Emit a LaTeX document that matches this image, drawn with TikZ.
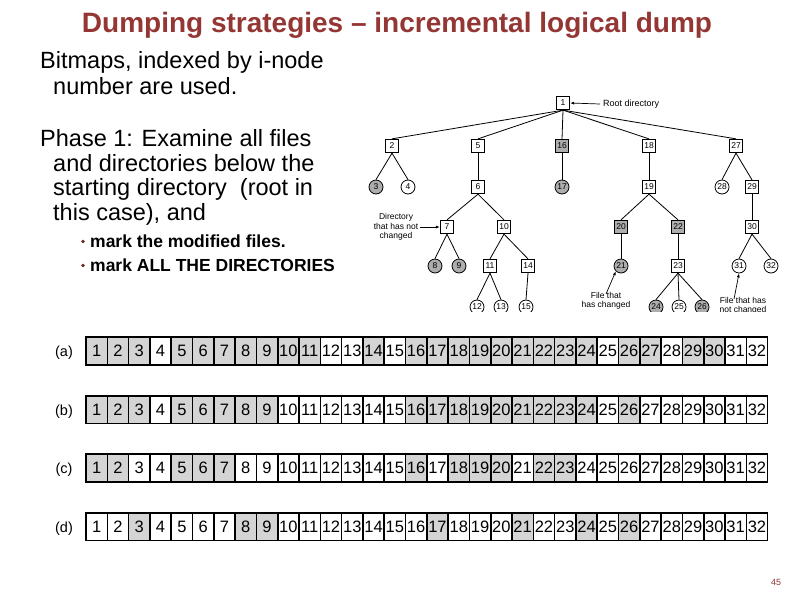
\documentclass[tikz,border=0pt]{standalone}
\usepackage{fontspec}
\setmainfont{Liberation Sans}
\usetikzlibrary{arrows.meta}
\definecolor{titlered}{RGB}{148,54,52}
\definecolor{cellgray}{RGB}{212,212,212}

\begin{document}
\begin{tikzpicture}[x=1pt,y=-1pt,
  title/.style={font=\bfseries\fontsize{28}{30}\selectfont,text=titlered},
  body/.style={font=\fontsize{23.5}{25}\selectfont,anchor=base west,inner sep=0},
  bullet/.style={font=\bfseries\fontsize{17.5}{20}\selectfont,anchor=base west,inner sep=0},
  cell/.style={draw=black,line width=1.6pt,minimum width=21.3pt,minimum height=27.6pt,inner sep=0,font=\fontsize{16.5}{16.5}\selectfont},
  rowlabel/.style={font=\fontsize{14.5}{14.5}\selectfont,anchor=base,inner sep=0},
  dirbox/.style={draw=black,line width=0.8pt,fill=white,minimum size=13.5pt,inner sep=0,font=\fontsize{8.5}{8.5}\selectfont},
  filecirc/.style={circle,draw=black,line width=0.8pt,fill=white,minimum size=14pt,inner sep=0,font=\fontsize{8.5}{8.5}\selectfont},
  changed/.style={fill=black!32},
  edge/.style={draw=black,line width=0.8pt},
  note/.style={font=\fontsize{8.5}{9.5}\selectfont,align=center,inner sep=0},
  pointer/.style={-{Latex[length=4pt,width=3pt]},draw=black,line width=0.7pt},
]
\useasboundingbox (0,0) rectangle (794,595);

% title and text
\node[title,anchor=base] (title) at (397,32) {Dumping strategies – incremental logical dump};
\node[body] (bit1) at (40,68) {Bitmaps, indexed by i-node};
\node[body] (bit2) at (53,94) {number are used.};
\node[body] (ph1) at (40,146.5) {Phase 1: Examine all files};
\node[body] (ph2) at (53,171) {and directories below the};
\node[body] (ph3) at (53,195.5) {starting directory\ \ (root in};
\node[body] (ph4) at (53,220) {this case), and};
\fill[titlered!70!black] (83,241.5) circle (1.9);
\fill[titlered!70!black] (83,265.5) circle (1.9);
\node[bullet] (mark1) at (90,247) {mark the modified files.};
\node[bullet] (mark2) at (90,271) {mark ALL THE DIRECTORIES};

% file tree (cropped at the bottom)
\begin{scope}
\clip (358,90) rectangle (794,311.5);
\node[dirbox] (n1) at (563,103) {1};
\node[dirbox] (n2) at (392,146) {2};
\node[dirbox] (n5) at (478,146) {5};
\node[dirbox,changed] (n16) at (562,146) {16};
\node[dirbox] (n18) at (649,146) {18};
\node[dirbox] (n27) at (736,146) {27};
\node[filecirc,changed] (n3) at (376,187) {3};
\node[filecirc] (n4) at (408,187) {4};
\node[dirbox] (n6) at (478,187) {6};
\node[filecirc,changed] (n17) at (562,187) {17};
\node[dirbox] (n19) at (649,187) {19};
\node[filecirc] (n28) at (722,187) {28};
\node[dirbox] (n29) at (752,187) {29};
\node[dirbox] (n7) at (447,227) {7};
\node[dirbox] (n10) at (504,227) {10};
\node[dirbox,changed] (n20) at (621,227) {20};
\node[dirbox,changed] (n22) at (678,227) {22};
\node[dirbox] (n30) at (752,227) {30};
\node[filecirc,changed] (n8) at (435,266) {8};
\node[filecirc,changed] (n9) at (459,266) {9};
\node[dirbox] (n11) at (490,266) {11};
\node[dirbox] (n14) at (528,266) {14};
\node[filecirc,changed] (n21) at (621,266) {21};
\node[dirbox] (n23) at (678,266) {23};
\node[filecirc] (n31) at (739,266) {31};
\node[filecirc] (n32) at (771,266) {32};
\node[filecirc] (n12) at (477,307) {12};
\node[filecirc] (n13) at (501,307) {13};
\node[filecirc] (n15) at (526,307) {15};
\node[filecirc,changed] (n24) at (656,307) {24};
\node[filecirc] (n25) at (679,307) {25};
\node[filecirc,changed] (n26) at (702,307) {26};

\foreach \p/\c in {1/2,1/5,1/16,1/18,1/27,2/3,2/4,5/6,6/7,6/10,7/8,7/9,
    10/11,10/14,11/12,11/13,14/15,16/17,18/19,19/20,19/22,20/21,22/23,
    23/24,23/25,23/26,27/28,27/29,29/30,30/31,30/32}
  \draw[edge] (n\p.south) -- (n\c.north);

\node[note,anchor=west,font=\fontsize{9}{9}\selectfont] (rootlab) at (603,104) {Root directory};
\draw[pointer] ([xshift=-3pt]rootlab.west) -- (n1.east);
\node[note] (dirlab) at (396,227) {Directory\\that has not\\changed};
\draw[pointer] ([xshift=2pt]dirlab.east) -- (n7.west);
\node[note] (fchlab) at (606,301) {File that\\has changed};
\draw[pointer] ([yshift=-2pt]fchlab.north) -- (n21.south west);
\node[note] (fnclab) at (743,306) {File that has\\not changed};
\draw[pointer] ([xshift=-9pt,yshift=-2pt]fnclab.north) -- (n31.south);
\end{scope}

% bitmaps
\foreach \row/\yc/\grays in {
    a/351/{1,2,3,5,6,7,8,9,10,11,14,16,17,18,19,20,21,22,23,24,26,27,29,30},
    b/409.5/{1,2,3,5,6,7,8,9,16,17,18,19,20,21,22,23,24,26},
    c/468/{1,2,5,6,7,16,18,19,20,22,23},
    d/526.5/{3,8,9,17,21,24,26}}{
  \node[rowlabel] (lab\row) at (64,{\yc+5.5}) {(\row)};
  \foreach \g in \grays
    \fill[cellgray] ({86+21.3*(\g-1)},{\yc-13.8}) rectangle +(21.3,27.6);
  \foreach \i in {1,...,32}
    \node[cell] (\row\i) at ({86+21.3*(\i-0.5)},\yc) {\i};
}

\node[font=\fontsize{9}{9}\selectfont,text=titlered] (pagenum) at (776,582) {45};
\end{tikzpicture}
\end{document}
